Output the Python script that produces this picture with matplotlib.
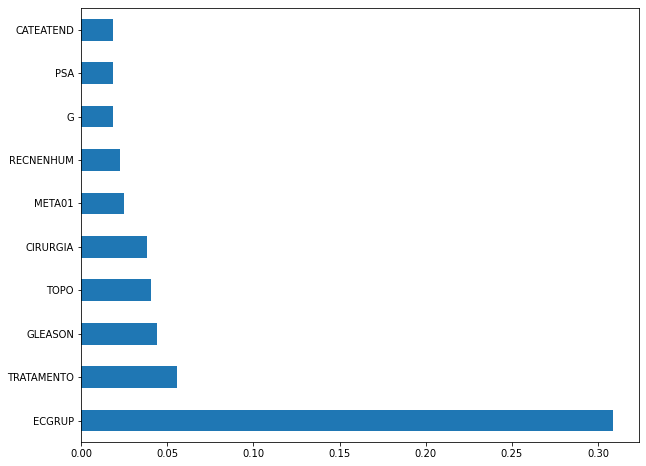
import matplotlib
matplotlib.use("Agg")
import matplotlib.pyplot as plt
import pandas as pd

# feature importances
features = ["ECGRUP", "TRATAMENTO", "GLEASON", "TOPO", "CIRURGIA",
            "META01", "RECNENHUM", "G", "PSA", "CATEATEND"]
importance = [0.3085, 0.0558, 0.0442, 0.0407, 0.0383,
              0.0249, 0.0226, 0.0185, 0.0185, 0.0185]

W, H, DPI = 646, 466, 72
fig = plt.figure(figsize=(W / DPI, H / DPI), dpi=DPI)
ax = fig.add_axes([81 / W, (H - 442.3) / H, (639.3 - 81) / W, (442.3 - 8) / H])

s = pd.Series(importance, index=features)
s.plot(kind="barh", ax=ax, color="#1f77b4")

ax.tick_params(labelsize=10)
fig.savefig("out.png", dpi=DPI, facecolor="white")
